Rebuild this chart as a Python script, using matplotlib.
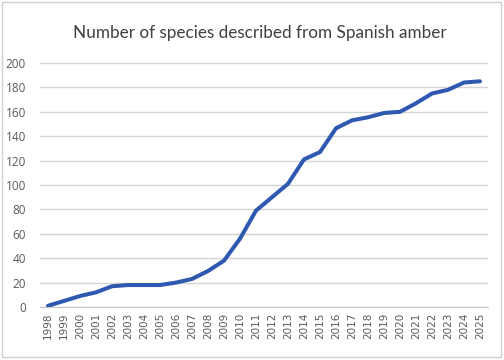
#Description: Number of species described from Spanish amber, per year

#Libraries
import matplotlib
matplotlib.use('Agg')
import matplotlib.pyplot as plt
from matplotlib.patches import Rectangle

#Data
years=[str(y) for y in range(1998,2026)]
species=[1,5,9,12,17,18,18,18,20,23,29.5,38,56,79,90,101,121,127,146.5,153,155.5,159,160,167,175,178,184,185]
yticks=[0,20,40,60,80,100,120,140,160,180,200]

plt.rcParams['font.family']=['Open Sans','DejaVu Sans']

fig=plt.figure(figsize=(5.04,3.6),dpi=100)
ax=fig.add_axes([40/504,53/360,448/504,244/360])

#Outer chart border
fig.patches.append(Rectangle((2/504,3/360),499/504,355/360,transform=fig.transFigure,
	fill=False,edgecolor='#d0d0d0',linewidth=1))

x=list(range(len(years)))
ax.plot(x,species,color='#2f58b0',linewidth=2.9,solid_joinstyle='round',solid_capstyle='round',zorder=3)

#Axes styling
ax.set_xlim(-0.5,len(years)-0.5)
ax.set_ylim(0,200)
ax.set_yticks(yticks)
ax.set_xticks(x)
ax.set_xticklabels(years,rotation=90,fontsize=7.5,color='#595959',family=['DejaVu Sans'])
ax.tick_params(axis='y',labelsize=8.5,colors='#595959',length=0,pad=10)
ax.tick_params(axis='x',length=0,pad=4)
ax.grid(axis='y',color='#d4d4d4',linewidth=1)
ax.set_axisbelow(True)
for s in ['top','right','left']:
	ax.spines[s].set_visible(False)
ax.spines['bottom'].set_color('#c8c8c8')

fig.text(260/504,1-33/360,'Number of species described from Spanish amber',ha='center',va='center',
	fontsize=12.3,color='#404040',family=['Lato','DejaVu Sans'])

plt.savefig('out.png',dpi=100)
